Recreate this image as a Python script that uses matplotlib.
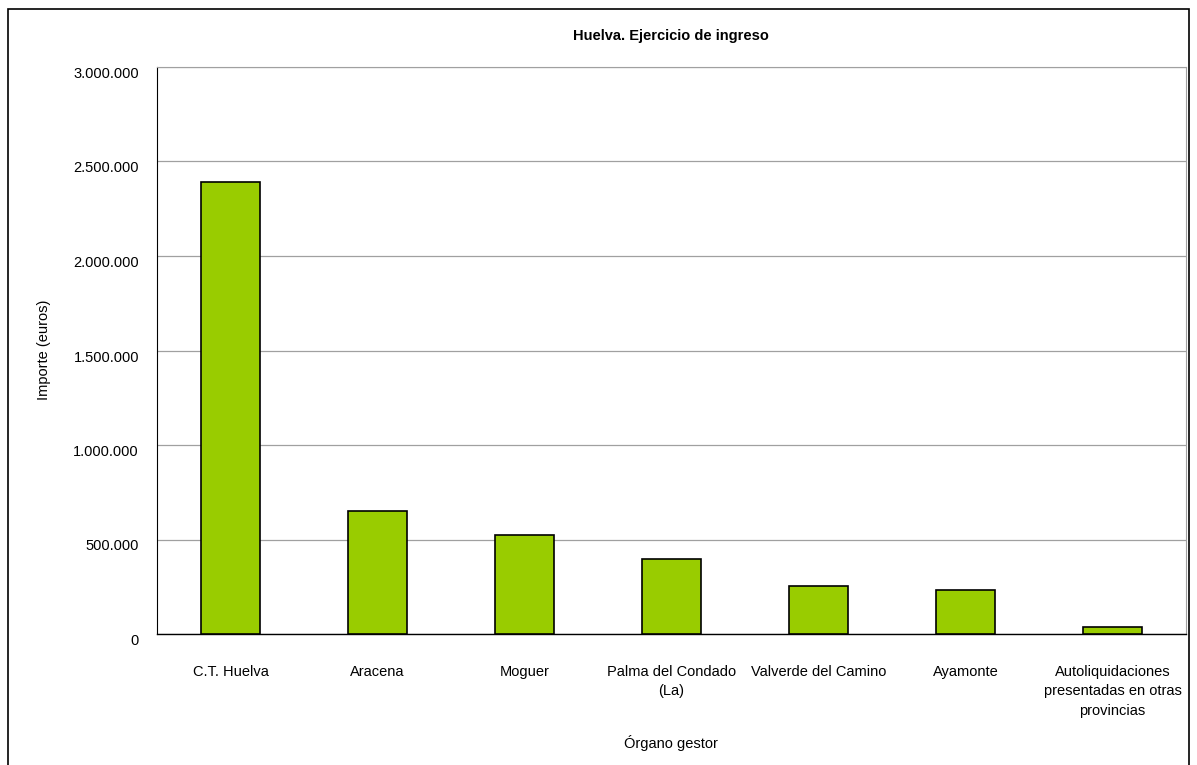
import matplotlib
matplotlib.use("Agg")
import matplotlib.pyplot as plt
import matplotlib.patches as patches
from matplotlib.ticker import FuncFormatter

plt.rcParams['font.family'] = ['Liberation Sans', 'DejaVu Sans']

# data
categories = ["C.T. Huelva", "Aracena", "Moguer", "Palma del Condado\n(La)",
              "Valverde del Camino", "Ayamonte",
              "Autoliquidaciones\npresentadas en otras\nprovincias"]
values = [2391000, 651000, 524000, 397000, 254000, 233000, 37000]
yticks = [0, 500000, 1000000, 1500000, 2000000, 2500000, 3000000]


def _fmt(v, pos):
    return f"{int(v):,}".replace(",", ".")


W, H = 1197, 765
fig = plt.figure(figsize=(W / 100, H / 100), dpi=100)
ax = fig.add_axes([157 / W, 1 - 634 / H, (1186 - 157) / W, (634 - 67) / H])

x = list(range(len(categories)))
ax.bar(x, values, width=0.4, color="#99cc00", edgecolor="black", linewidth=1.2, zorder=3)

ax.set_xlim(-0.5, len(categories) - 0.5)
ax.set_ylim(0, 3000000)
ax.set_yticks(yticks)
ax.yaxis.set_major_formatter(FuncFormatter(_fmt))
ax.set_xticks(x)
ax.set_xticklabels(categories, fontsize=10.5, linespacing=1.5)
ax.tick_params(axis="both", length=0, labelsize=10.5)
ax.tick_params(axis="x", pad=22)
ax.tick_params(axis="y", pad=13)
for lbl in ax.get_yticklabels():
    lbl.set_va("top")
ax.grid(axis="y", color="#a0a0a0", linewidth=0.9, zorder=0)

for side in ["top", "right"]:
    ax.spines[side].set_color("#a0a0a0")
ax.spines["left"].set_color("black")
ax.spines["bottom"].set_color("black")
ax.spines["bottom"].set_linewidth(1.0)

fig.text(44 / W, 1 - 350 / H, "Importe (euros)", rotation=90, fontsize=10.5,
         ha="center", va="center")
fig.text(671 / W, 1 - 743 / H, "Órgano gestor", fontsize=10.5, ha="center", va="center")
fig.text(671 / W, 1 - 36 / H, "Huelva. Ejercicio de ingreso", fontsize=10.5,
         fontweight="bold", ha="center", va="center")

# outer frame
fig.patches.append(patches.Rectangle((8 / W, -0.05), (1189 - 8) / W, 1.05 - 9 / H,
                                     transform=fig.transFigure, fill=False,
                                     edgecolor="black", linewidth=1.2))

fig.savefig("out.png", dpi=100)
